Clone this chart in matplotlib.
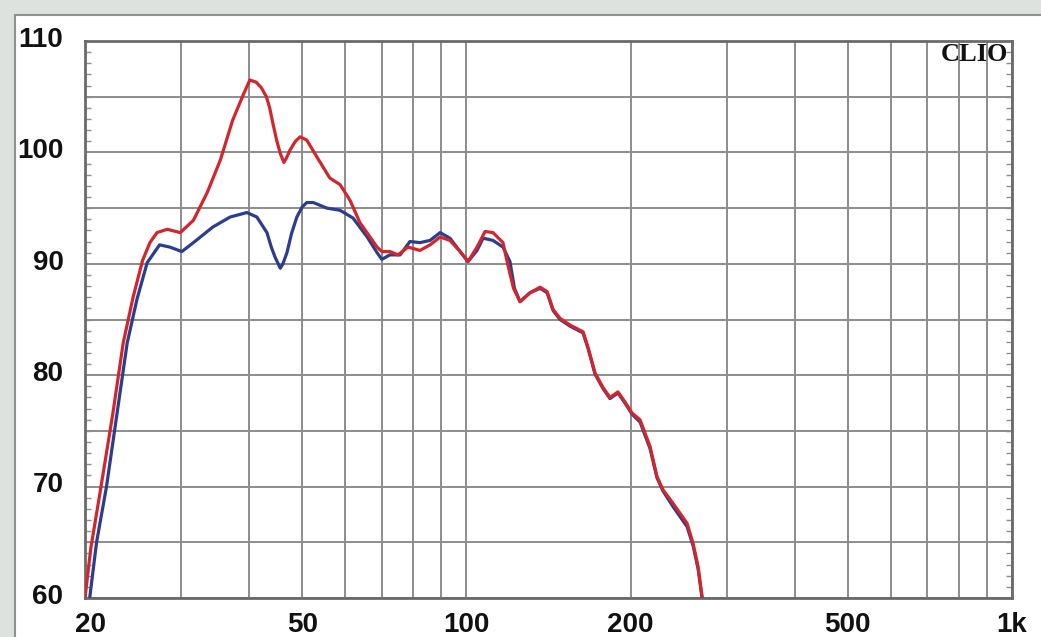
import matplotlib
matplotlib.use('Agg')
import matplotlib.pyplot as plt
from matplotlib.patches import Rectangle
from matplotlib.ticker import FixedLocator, MultipleLocator, NullFormatter
import matplotlib.transforms as mtransforms

# ---- data ----
red_freq = [20.0, 20.5, 21.3, 22.5, 23.5, 24.5, 25.5, 26.3, 27.1, 28.3,
            29.9, 31.6, 33.5, 35.4, 37.3, 39.1, 40.1, 41.2, 42.1, 43.0,
            43.6, 44.2, 44.9, 45.6, 46.3, 46.8, 47.5, 48.6, 49.6, 51.0,
            53.2, 56.2, 58.7, 61.2, 63.8,
            66.6, 68.6, 70.0, 72.4, 74.9, 78.2, 82.2, 85.8, 89.5, 93.3,
            97.4, 100.7, 104.6, 108.2, 111.9, 116.7, 119.0, 122.0, 125.4, 130.8,
            136.5, 140.6, 144.2, 148.5, 154.9, 163.6, 167.1, 172.1, 178.0, 183.3,
            189.6, 195.3, 201.2, 208.1, 217.1, 223.5, 229.3, 239.2, 253.8, 260.3,
            265.9, 270.4]
red_db = [60.0, 64.5, 69.4, 76.6, 82.9, 87.0, 90.3, 91.9, 92.8, 93.1,
          92.8, 93.9, 96.4, 99.3, 102.9, 105.3, 106.5, 106.3, 105.8, 105.0,
          104.0, 102.6, 101.1, 99.9, 99.1, 99.5, 100.2, 101.0, 101.4, 101.1,
          99.6, 97.7, 97.1, 95.7, 93.7,
          92.4, 91.5, 91.1, 91.1, 90.8, 91.5, 91.2, 91.7, 92.4, 92.1,
          91.1, 90.2, 91.5, 92.9, 92.8, 91.9, 90.0, 87.8, 86.6, 87.4,
          87.9, 87.5, 85.9, 85.1, 84.5, 83.9, 82.5, 80.2, 78.9, 78.0,
          78.5, 77.6, 76.6, 76.0, 73.6, 70.9, 69.7, 68.5, 66.7, 64.9,
          62.8, 60.1]

blue_freq = [20.4, 21.0, 21.9, 22.9, 23.9, 24.9, 26.0, 27.4, 28.6, 30.1,
             31.6, 34.3, 36.9, 39.6, 41.3, 43.1, 43.9, 44.6, 45.6, 46.1,
             46.9, 47.8, 48.9, 50.0, 51.0, 52.4, 55.5, 58.7, 62.0, 65.8,
             68.6, 70.0, 72.4, 75.6,
             78.8, 82.2, 85.8, 89.5, 93.3, 97.4, 100.7, 104.6, 107.3, 111.9,
             116.7, 120.2, 122.5, 125.4, 130.8, 136.5, 140.6, 144.2, 148.5, 154.9,
             163.6, 167.1, 172.1, 178.0, 183.3, 189.6, 195.3, 201.2, 208.1, 217.1,
             223.5, 229.3, 239.2, 253.8, 260.3, 265.9, 270.4]
blue_db = [60.0, 65.0, 70.0, 76.6, 82.9, 86.8, 90.1, 91.7, 91.5, 91.1,
           91.9, 93.3, 94.2, 94.6, 94.2, 92.8, 91.5, 90.6, 89.6, 90.0,
           91.0, 92.7, 94.2, 95.1, 95.5, 95.5, 95.0, 94.8, 94.1, 92.4,
           91.0, 90.4, 90.8, 90.8,
           92.0, 91.9, 92.1, 92.8, 92.3, 91.1, 90.2, 91.2, 92.3, 92.1,
           91.5, 90.2, 87.8, 86.6, 87.4, 87.8, 87.4, 85.8, 85.0, 84.4,
           83.8, 82.4, 80.1, 78.8, 77.9, 78.4, 77.5, 76.5, 75.8, 73.4,
           70.8, 69.6, 68.2, 66.4, 64.7, 62.6, 60.0]

x_ticks = [20, 50, 100, 200, 500, 1000]
x_labels = ['20', '50', '100', '200', '500', '1k']
x_grid = [30, 40, 60, 70, 80, 90, 300, 400, 600, 700, 800, 900]
y_ticks = [60, 70, 80, 90, 100, 110]
y_labels = ['60', '70', '80', '90', '100', '110']
y_grid_half = [65, 75, 85, 95, 105]

W, H = 1041, 637
fig = plt.figure(figsize=(W / 100, H / 100), dpi=100)
fig.patch.set_facecolor('#dde2de')
panel = Rectangle((15 / W, -0.1), 1.2, 1 - 15 / H + 0.1, transform=fig.transFigure,
                  facecolor='white', edgecolor='#8e918e', linewidth=1.5, zorder=-10)
fig.patches.append(panel)

ax = fig.add_axes([85 / W, 1 - 598 / H, (1012 - 85) / W, (598 - 41) / H])
ax.set_facecolor('white')
ax.set_xscale('log')
ax.set_xlim(20, 1000)
ax.set_ylim(60, 110)

grid_kw = dict(color='#8c8c8c', linewidth=1.4, zorder=1)
ax.xaxis.set_major_locator(FixedLocator(x_ticks))
ax.xaxis.set_minor_locator(FixedLocator(x_grid))
ax.xaxis.set_minor_formatter(NullFormatter())
ax.set_xticklabels(x_labels)
ax.yaxis.set_major_locator(FixedLocator(y_ticks))
ax.set_yticklabels(y_labels)
ax.yaxis.set_minor_locator(MultipleLocator(1))
ax.grid(True, which='major', axis='both', **grid_kw)
ax.grid(True, which='minor', axis='x', **grid_kw)
for v in y_grid_half:
    ax.axhline(v, **grid_kw)
ax.set_axisbelow(True)

font = ['Liberation Sans', 'DejaVu Sans']
ax.tick_params(axis='x', which='both', length=0, pad=10)
ax.tick_params(axis='y', which='major', length=0, pad=15.5)
ax.tick_params(axis='y', which='minor', direction='in', length=4, width=1,
               color='#8f8f8f', left=True, right=True)
for lab in ax.get_xticklabels() + ax.get_yticklabels():
    lab.set_fontfamily(font)
    lab.set_fontweight('bold')
    lab.set_fontsize(20)
    lab.set_color('#111111')
offset = mtransforms.ScaledTranslation(0, 3 / 72, fig.dpi_scale_trans)
for lab in ax.get_yticklabels():
    lab.set_transform(lab.get_transform() + offset)
first = ax.get_xticklabels()[0]
first.set_transform(first.get_transform() +
                    mtransforms.ScaledTranslation(4 / 72, 0, fig.dpi_scale_trans))

for s in ax.spines.values():
    s.set_color('#6a6a6a')
    s.set_linewidth(2)

ax.plot(blue_freq, blue_db, color='#2c3d8e', linewidth=2.3, zorder=3,
        solid_joinstyle='round', solid_capstyle='round')
ax.plot(red_freq, red_db, color='#d3262c', linewidth=2.3, zorder=4,
        solid_joinstyle='round', solid_capstyle='round')

ax.text(0.996, 0.997, 'CLIO', transform=ax.transAxes, ha='right', va='top',
        fontfamily=['Liberation Serif', 'DejaVu Serif'], fontweight='bold',
        fontsize=19, color='#111111', zorder=5)

fig.savefig('out.png', dpi=100, facecolor=fig.get_facecolor())
